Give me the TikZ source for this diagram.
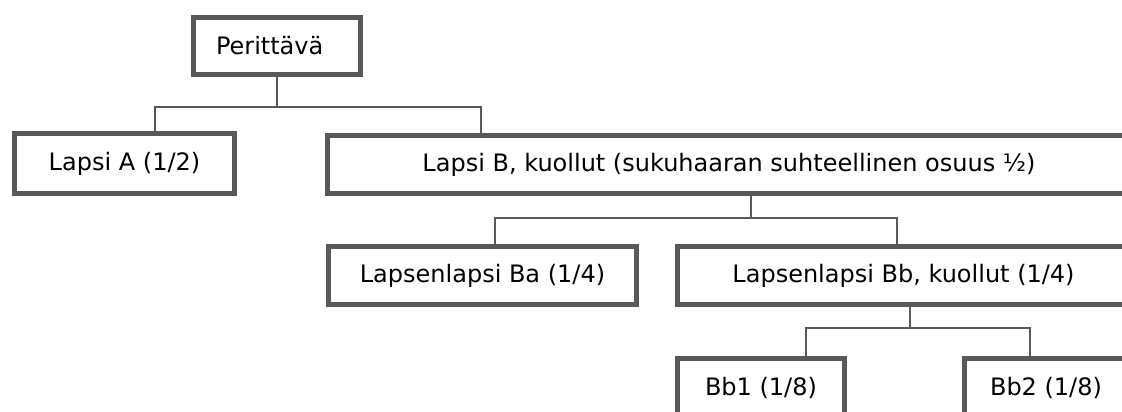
\documentclass[tikz,border=0pt]{standalone}
\usepackage{fontspec}
\setmainfont{DejaVu Sans}
\usepackage{tikz}
\usepackage{color}
\definecolor{boxgray}{HTML}{595959}

\begin{document}
\begin{tikzpicture}[x=1pt,y=-1pt,
  box/.style={draw=boxgray,line width=5pt,fill=white,inner sep=0pt,minimum height=58pt,font=\fontsize{24}{28}\selectfont},
  conn/.style={draw=boxgray,line width=1.4pt}]
\useasboundingbox (0,0) rectangle (1122,412);
\clip (0,0) rectangle (1122,412);
% taps and junctions
\coordinate (bus1) at (277,107);
\coordinate (tapA) at (155,0);
\coordinate (tapB) at (481,0);
\coordinate (bus2) at (751,218);
\coordinate (tapBa) at (495,0);
\coordinate (tapBb) at (897,0);
\coordinate (bus3) at (910,328);
\coordinate (tapB1) at (806,0);
\coordinate (tapB2) at (1030,0);
% boxes
\node[box,minimum width=167pt,minimum height=57pt,text width=122pt,inner xsep=22.5pt,align=left] (per) at (277,46) {Perittävä};
\node[box,minimum width=220pt,minimum height=60pt] (lapsiA) at (124.5,163.5) {Lapsi A (1/2)};
\node[box,minimum width=803pt] (lapsiB) at (729,164.5) {Lapsi B, kuollut (sukuhaaran suhteellinen osuus ½)};
\node[box,minimum width=308pt] (ba) at (482.5,275.5) {Lapsenlapsi Ba (1/4)};
\node[box,minimum width=452pt] (bb) at (903.5,275.5) {Lapsenlapsi Bb, kuollut (1/4)};
\node[box,minimum width=167pt] (bb1) at (761,387.5) {Bb1 (1/8)};
\node[box,minimum width=163pt] (bb2) at (1046,387.5) {Bb2 (1/8)};
% lines
\draw[conn] (per.south) -- (per.south |- bus1);
\draw[conn] (lapsiA.north -| tapA) |- (bus1) -| (lapsiB.north -| tapB);
\draw[conn] (lapsiB.south -| bus2) -- (bus2);
\draw[conn] (ba.north -| tapBa) |- (bus2) -| (bb.north -| tapBb);
\draw[conn] (bb.south -| bus3) -- (bus3);
\draw[conn] (bb1.north -| tapB1) |- (bus3) -| (bb2.north -| tapB2);
\end{tikzpicture}
\end{document}
